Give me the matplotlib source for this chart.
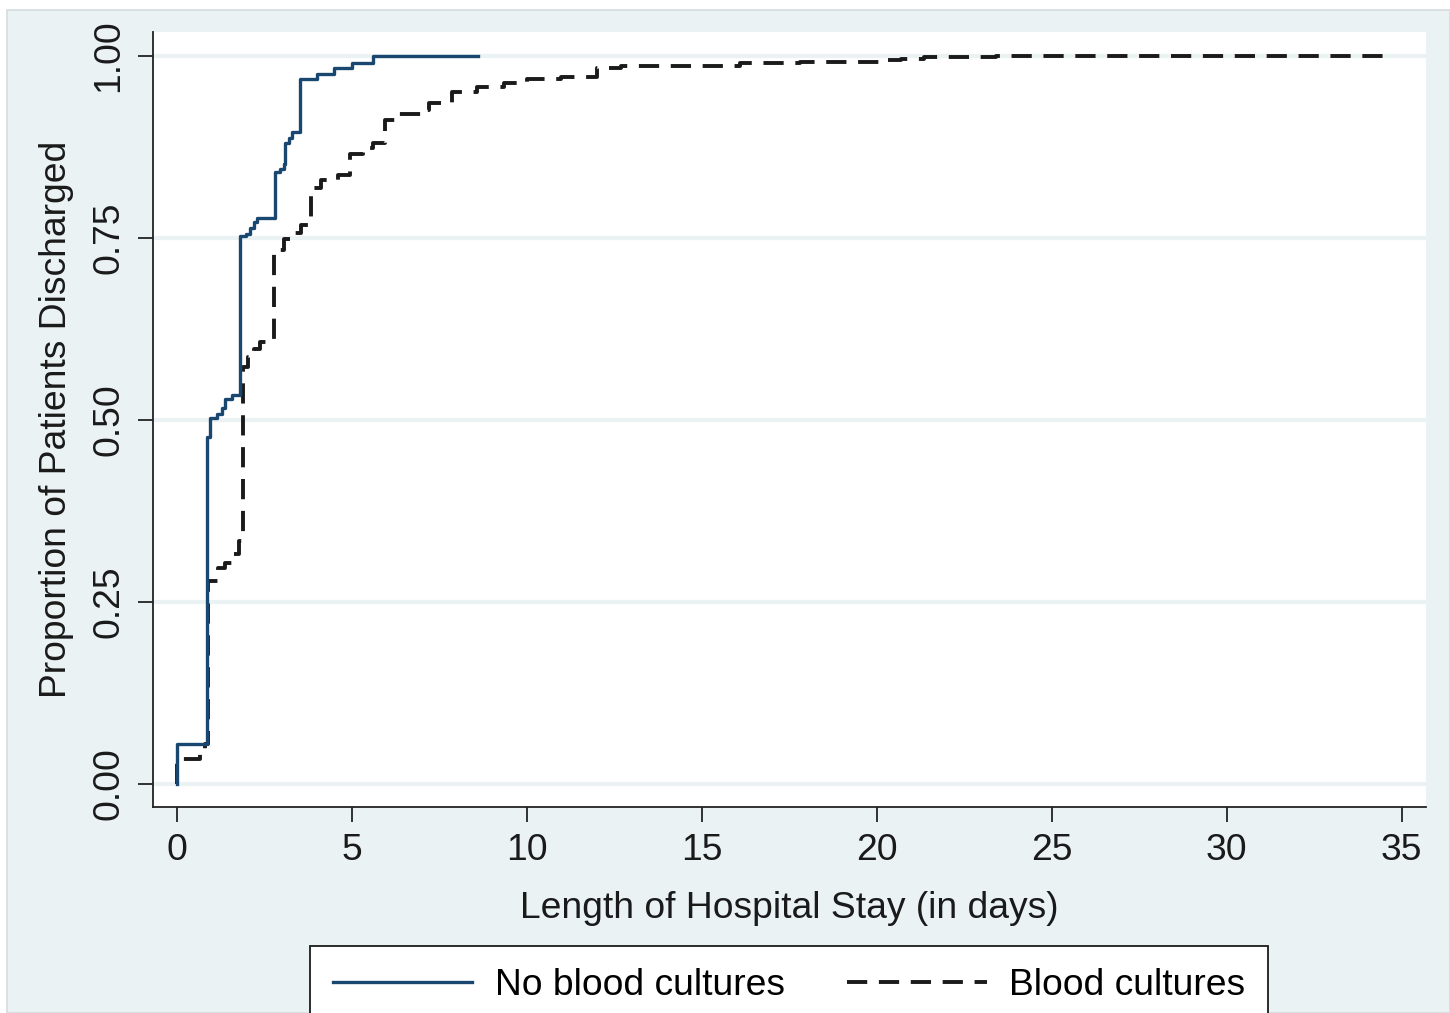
import matplotlib
matplotlib.use("Agg")
import matplotlib.pyplot as plt
from matplotlib.patches import Rectangle
from matplotlib.lines import Line2D

plt.rcParams['font.family'] = ['Liberation Sans', 'DejaVu Sans']

# No blood cultures (step times in days, cumulative proportion discharged)
no_bc_days = [0.0, 0.0, 0.85, 0.94, 1.13, 1.28, 1.37, 1.57, 1.80, 1.95, 2.07, 2.20, 2.28,
              2.80, 2.95, 3.04, 3.09, 3.19, 3.28, 3.50, 3.98, 4.47, 5.00, 5.60, 8.60]
no_bc_prop = [0.0, 0.055, 0.476, 0.502, 0.508, 0.516, 0.528, 0.534, 0.752, 0.756, 0.763, 0.772, 0.777,
              0.841, 0.845, 0.852, 0.880, 0.887, 0.896, 0.968, 0.975, 0.983, 0.990, 1.0, 1.0]

# Blood cultures
bc_days = [0.0, 0.0, 0.66, 0.80, 0.89, 1.15, 1.35, 1.55, 1.76, 1.89, 2.03, 2.20, 2.35,
           2.76, 3.05, 3.30, 3.55, 3.81, 4.10, 4.60, 4.95, 5.30, 5.60, 5.95, 6.30, 7.00,
           7.20, 7.86, 8.58, 9.33, 10.0, 10.96, 12.0, 12.68, 16.1, 17.8, 20.1, 20.7,
           21.35, 23.4, 34.6]
bc_prop = [0.0, 0.034, 0.045, 0.055, 0.279, 0.297, 0.303, 0.315, 0.334, 0.573, 0.586, 0.597, 0.607,
           0.733, 0.748, 0.757, 0.768, 0.818, 0.830, 0.836, 0.866, 0.873, 0.880, 0.912, 0.920, 0.926,
           0.935, 0.950, 0.958, 0.963, 0.968, 0.971, 0.983, 0.986, 0.990, 0.992, 0.994, 0.996,
           0.998, 1.0, 1.0]

x_ticks = [0, 5, 10, 15, 20, 25, 30, 35]
y_ticks = [0.0, 0.25, 0.50, 0.75, 1.00]
y_tick_labels = ["0.00", "0.25", "0.50", "0.75", "1.00"]
series_labels = ["No blood cultures", "Blood cultures"]

W, H = 1450, 1013
FS = 26.8
fig = plt.figure(figsize=(W / 100, H / 100), dpi=100, facecolor='white')
bg = '#eaf2f3'
fig.patches.append(Rectangle((7 / W, 0), 1 - 7 / W, 1 - 10 / H, transform=fig.transFigure,
                             facecolor=bg, edgecolor='#d5dcde', linewidth=1.2, zorder=-10))

left, right, top, bottom = 153, 1426, 32, 807
ax = fig.add_axes([left / W, 1 - bottom / H, (right - left) / W, (bottom - top) / H])
ax.set_facecolor('white')

ax.set_xlim(-0.695, 35.70)
ax.set_ylim(-0.032, 1.033)

for y in y_ticks:
    ax.axhline(y, color=bg, lw=3.0, zorder=0)

ax.step(no_bc_days, no_bc_prop, where='post', color='#1a476f', lw=2.4, zorder=3)
bc_line, = ax.step(bc_days, bc_prop, where='post', color='#1a1a1a', lw=2.8, zorder=2)
bc_line.set_dashes((5.2, 3.0))

for s in ['top', 'right']:
    ax.spines[s].set_visible(False)
for s in ['left', 'bottom']:
    ax.spines[s].set_linewidth(1.3)
    ax.spines[s].set_color('#222222')

ax.set_xticks(x_ticks)
ax.set_yticks(y_ticks)
ax.set_yticklabels(y_tick_labels, rotation=90, va='center')
ax.tick_params(axis='both', direction='out', length=11, width=1.3, color='#222222',
               labelsize=FS, labelcolor='#1a1a1a', pad=8)

ax.set_xlabel("Length of Hospital Stay (in days)", fontsize=FS, color='#1a1a1a', labelpad=16)
ax.set_ylabel("Proportion of Patients Discharged", fontsize=FS, color='#1a1a1a', labelpad=13)

handles = [Line2D([], [], color='#1a476f', lw=2.4),
           Line2D([], [], color='#1a1a1a', lw=2.8, dashes=(5.2, 3.0))]
leg = fig.legend(handles, series_labels, loc='upper center', bbox_to_anchor=(789 / W, 1 - 946 / H),
                 ncol=2, fontsize=FS, frameon=True, fancybox=False, edgecolor='#1a1a1a',
                 facecolor='white', framealpha=1, handlelength=3.75, handletextpad=0.6,
                 columnspacing=1.68, borderpad=0.6, borderaxespad=0)
leg.get_frame().set_linewidth(1.3)

fig.savefig("out.png", dpi=100, facecolor=fig.get_facecolor())
